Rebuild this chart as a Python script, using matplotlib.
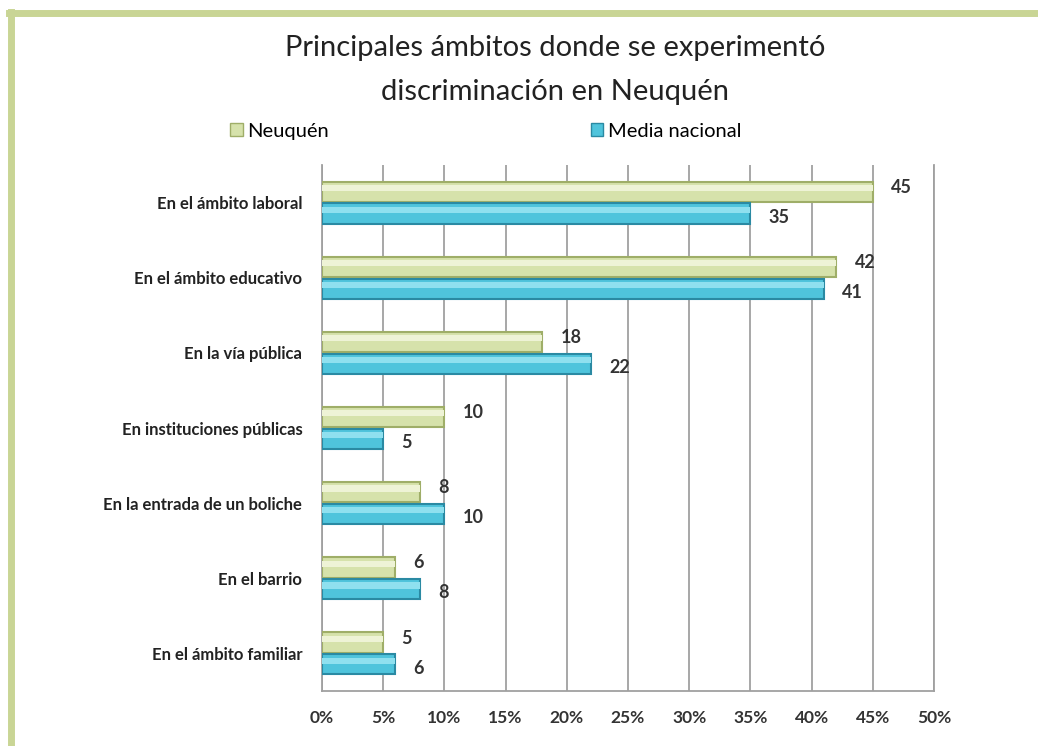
import numpy as np
import matplotlib.pyplot as plt
from matplotlib.lines import Line2D
from matplotlib.patches import Patch

categories = ["En el ámbito laboral", "En el ámbito educativo", "En la vía pública",
              "En instituciones públicas", "En la entrada de un boliche",
              "En el barrio", "En el ámbito familiar"]
neuquen = [45, 42, 18, 10, 8, 6, 5]
nacional = [35, 41, 22, 5, 10, 8, 6]
xticks = [0, 5, 10, 15, 20, 25, 30, 35, 40, 45, 50]

plt.rcParams['font.family'] = ['Lato', 'DejaVu Sans']

fig = plt.figure(figsize=(10.38, 7.46), dpi=100)
ax = fig.add_axes([0.310, 0.0737, 0.590, 0.705])

y = np.arange(len(categories))
h = 0.27
green_face, green_edge = "#d6e2ab", "#9fae68"
blue_face, blue_edge = "#4fc4dc", "#2a8aa3"

ax.barh(y - h / 2 - 0.01, neuquen, height=h, color=green_face, edgecolor=green_edge,
        linewidth=1.5, zorder=3)
ax.barh(y + h / 2 + 0.01, nacional, height=h, color=blue_face, edgecolor=blue_edge,
        linewidth=1.5, zorder=3)

# highlight stripe for a bit of the 3D look
ax.barh(y - h / 2 - 0.06, neuquen, height=h * 0.3, color="#eef3d6", linewidth=0, zorder=4)
ax.barh(y + h / 2 - 0.04, nacional, height=h * 0.3, color="#8fe0ef", linewidth=0, zorder=4)

for i in range(len(categories)):
    ax.text(neuquen[i] + 1.5, y[i] - h / 2 - 0.07, str(neuquen[i]), va="center", ha="left",
            fontsize=13, fontweight="bold", color="#333333")
    ax.text(nacional[i] + 1.5, y[i] + h / 2 + 0.06, str(nacional[i]), va="center", ha="left",
            fontsize=13, fontweight="bold", color="#333333")

ax.set_xlim(0, 50)
ax.set_ylim(len(categories) - 0.5, -0.5)
ax.set_xticks(xticks)
ax.set_xticklabels([f"{t}%" for t in xticks], fontsize=12.5, fontweight="bold", color="#333333")
ax.set_yticks(y)
ax.set_yticklabels(categories, fontsize=12, fontweight="bold", color="#222222")
ax.tick_params(axis="both", length=0)
ax.tick_params(axis="x", pad=14)
ax.tick_params(axis="y", pad=14)
ax.grid(axis="x", color="#a0a0a0", linewidth=1.3, zorder=0)
ax.spines["top"].set_visible(False)
for s in ["left", "bottom", "right"]:
    ax.spines[s].set_color("#a0a0a0")
    ax.spines[s].set_linewidth(1.3)

fig.text(0.535, 0.935, "Principales ámbitos donde se experimentó", ha="center", va="center",
         fontsize=21, color="#222222")
fig.text(0.535, 0.877, "discriminación en Neuquén", ha="center", va="center",
         fontsize=21, color="#222222")

h1 = Patch(facecolor=green_face, edgecolor=green_edge)
h2 = Patch(facecolor=blue_face, edgecolor=blue_edge)
for hd, lb, xpos in [(h1, "Neuquén", 0.222), (h2, "Media nacional", 0.569)]:
    fig.legend([hd], [lb], loc="center left", bbox_to_anchor=(xpos, 0.824), frameon=False,
               fontsize=14.5, handlelength=0.6, handleheight=0.6, handletextpad=0.25,
               borderpad=0, borderaxespad=0)

# green frame
fig.add_artist(Line2D([11 / 1038, 11 / 1038], [0, 1 - 12 / 746], color="#c9d595", lw=5,
                      transform=fig.transFigure))
fig.add_artist(Line2D([9 / 1038, 1], [1 - 13 / 746, 1 - 13 / 746], color="#c9d595", lw=5,
                      transform=fig.transFigure))

fig.savefig("out.png", dpi=100)
